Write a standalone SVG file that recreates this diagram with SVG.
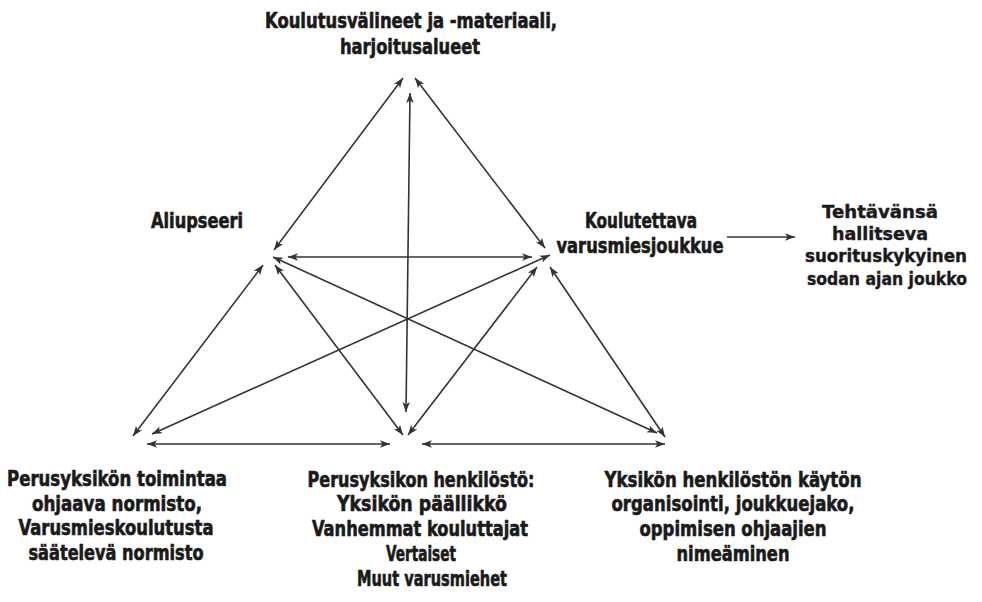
<svg xmlns="http://www.w3.org/2000/svg" width="982" height="602" viewBox="0 0 982 602">
<defs>
<marker id="ah" markerUnits="userSpaceOnUse" markerWidth="12" markerHeight="10" refX="10" refY="5" orient="auto-start-reverse">
<path d="M0,1.2 L10,5 L0,8.8 L2.5,5 z" fill="#333"/>
</marker>
<style>
.c line{stroke:#333;stroke-width:1.6;fill:none;marker-start:url(#ah);marker-end:url(#ah)}
.c line.one{marker-start:none}
.t{font-family:"Liberation Sans Narrow","DejaVu Sans Condensed","Liberation Sans",sans-serif;font-weight:bold;font-size:20.5px;fill:#1a1a1a;stroke:#1a1a1a;stroke-width:0.6;text-anchor:middle}
.w{font-family:"DejaVu Sans","Liberation Sans",sans-serif;font-weight:bold;font-size:17px;fill:#1a1a1a;stroke:#1a1a1a;stroke-width:0.4;text-anchor:middle}
</style>
</defs>
<rect width="982" height="602" fill="#fff"/>
<g id="connectors" class="c">
<line x1="274" y1="250" x2="403" y2="78"/>
<line x1="415" y1="78" x2="545" y2="248"/>
<line x1="410" y1="93" x2="406" y2="412"/>
<line x1="288" y1="257" x2="532" y2="257"/>
<line x1="263" y1="265" x2="133" y2="436"/>
<line x1="275" y1="265" x2="403" y2="435"/>
<line x1="273" y1="257" x2="657" y2="433"/>
<line x1="550" y1="255" x2="152" y2="434"/>
<line x1="537" y1="267" x2="408" y2="435"/>
<line x1="550" y1="267" x2="665" y2="437"/>
<line x1="147" y1="444" x2="390" y2="444"/>
<line x1="422" y1="444" x2="665" y2="444"/>
<line class="one" x1="727" y1="237" x2="795" y2="237"/>
</g>
<g id="n-koulutusvalineet">
<text class="t" x="411" y="28" textLength="292" lengthAdjust="spacingAndGlyphs">Koulutusvälineet ja -materiaali,</text>
<text class="t" x="410" y="54" textLength="140" lengthAdjust="spacingAndGlyphs">harjoitusalueet</text>
</g>
<g id="n-aliupseeri">
<text class="t" x="197" y="228" textLength="92" lengthAdjust="spacingAndGlyphs">Aliupseeri</text>
</g>
<g id="n-koulutettava">
<text class="t" x="641" y="228" textLength="112" lengthAdjust="spacingAndGlyphs">Koulutettava</text>
<text class="t" x="640" y="253" textLength="167" lengthAdjust="spacingAndGlyphs">varusmiesjoukkue</text>
</g>
<g id="n-tehtavansa">
<text class="w" x="880" y="218" textLength="116" lengthAdjust="spacingAndGlyphs">Tehtävänsä</text>
<text class="w" x="880" y="240" textLength="96" lengthAdjust="spacingAndGlyphs">hallitseva</text>
<text class="w" x="886" y="262" textLength="162" lengthAdjust="spacingAndGlyphs">suorituskykyinen</text>
<text class="w" x="887" y="285" textLength="160" lengthAdjust="spacingAndGlyphs">sodan ajan joukko</text>
</g>
<g id="n-normisto">
<text class="t" x="117" y="486" textLength="220" lengthAdjust="spacingAndGlyphs">Perusyksikön toimintaa</text>
<text class="t" x="117" y="511" textLength="170" lengthAdjust="spacingAndGlyphs">ohjaava normisto,</text>
<text class="t" x="116" y="535" textLength="195" lengthAdjust="spacingAndGlyphs">Varusmieskoulutusta</text>
<text class="t" x="116" y="560" textLength="175" lengthAdjust="spacingAndGlyphs">säätelevä normisto</text>
</g>
<g id="n-henkilosto">
<text class="t" x="421" y="487" textLength="227" lengthAdjust="spacingAndGlyphs">Perusyksikon henkilöstö:</text>
<text class="t" x="422" y="511" textLength="170" lengthAdjust="spacingAndGlyphs">Yksikön päällikkö</text>
<text class="t" x="420" y="536" textLength="216" lengthAdjust="spacingAndGlyphs">Vanhemmat kouluttajat</text>
<text class="t" x="421" y="561" textLength="70" lengthAdjust="spacingAndGlyphs">Vertaiset</text>
<text class="t" x="432" y="586" textLength="150" lengthAdjust="spacingAndGlyphs">Muut varusmiehet</text>
</g>
<g id="n-organisointi">
<text class="t" x="733" y="487" textLength="257" lengthAdjust="spacingAndGlyphs">Yksikön henkilöstön käytön</text>
<text class="t" x="733" y="511" textLength="243" lengthAdjust="spacingAndGlyphs">organisointi, joukkuejako,</text>
<text class="t" x="733" y="536" textLength="187" lengthAdjust="spacingAndGlyphs">oppimisen ohjaajien</text>
<text class="t" x="733" y="561" textLength="113" lengthAdjust="spacingAndGlyphs">nimeäminen</text>
</g>
</svg>
